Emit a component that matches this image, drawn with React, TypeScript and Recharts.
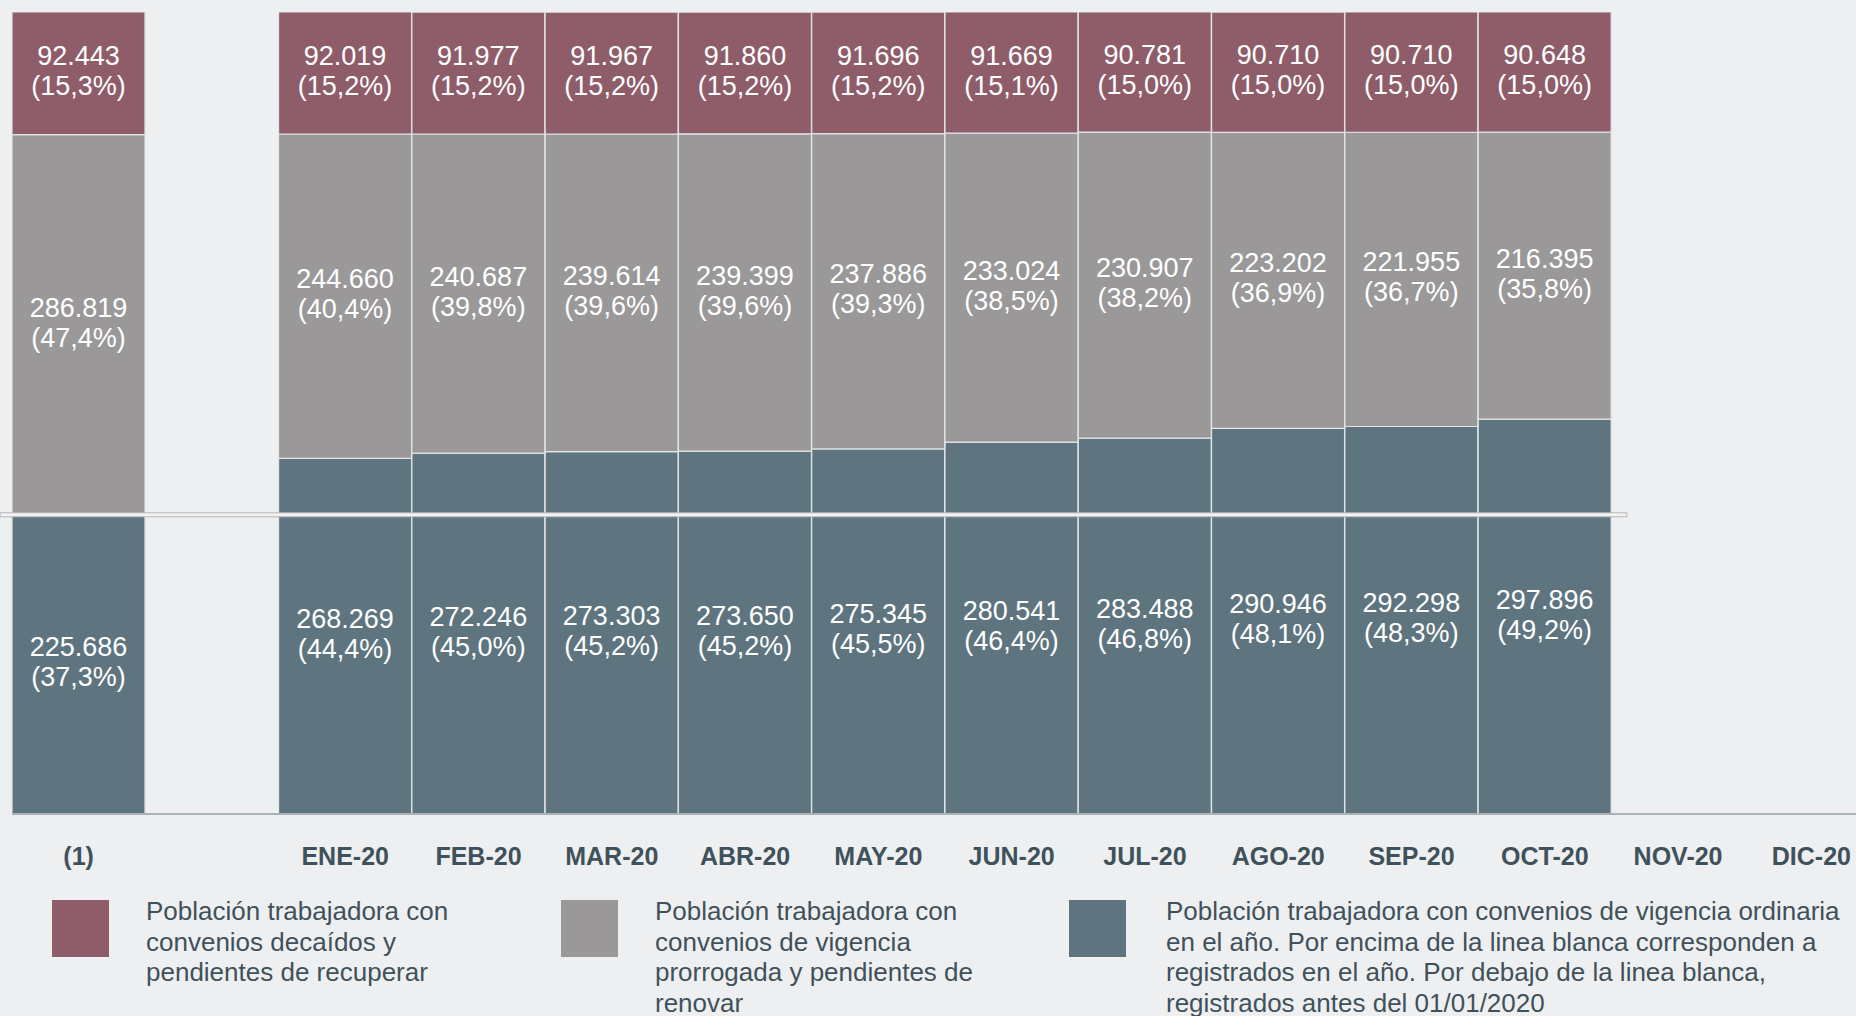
import React from 'react';
import { BarChart, Bar, XAxis, YAxis, LabelList, ReferenceLine } from 'recharts';

const categories = ['(1)', ' ', 'ENE-20', 'FEB-20', 'MAR-20', 'ABR-20', 'MAY-20', 'JUN-20', 'JUL-20', 'AGO-20', 'SEP-20', 'OCT-20', 'NOV-20', 'DIC-20'];
const decaidos = [92443, null, 92019, 91977, 91967, 91860, 91696, 91669, 90781, 90710, 90710, 90648, null, null];
const decaidosPct = ['15,3', null, '15,2', '15,2', '15,2', '15,2', '15,2', '15,1', '15,0', '15,0', '15,0', '15,0', null, null];
const prorrogada = [286819, null, 244660, 240687, 239614, 239399, 237886, 233024, 230907, 223202, 221955, 216395, null, null];
const prorrogadaPct = ['47,4', null, '40,4', '39,8', '39,6', '39,6', '39,3', '38,5', '38,2', '36,9', '36,7', '35,8', null, null];
const ordinaria = [225686, null, 268269, 272246, 273303, 273650, 275345, 280541, 283488, 290946, 292298, 297896, null, null];
const ordinariaPct = ['37,3', null, '44,4', '45,0', '45,2', '45,2', '45,5', '46,4', '46,8', '48,1', '48,3', '49,2', null, null];
const registradosAntes2020 = 225686;
const totalPoblacion = 604948;

const C_DEC = '#8f5d6a';
const C_PRO = '#9a9899';
const C_ORD = '#5e757f';
const BG = '#eeeff1';
const TXT = '#3f525b';
const FONT = '"Liberation Sans", Arial, sans-serif';

const fmt = (v: number) => v.toLocaleString('de-DE');

const data = categories.map((c, i) => ({
  cat: c,
  antes: ordinaria[i] == null ? null : Math.min(ordinaria[i] as number, registradosAntes2020),
  enAno: ordinaria[i] == null || (ordinaria[i] as number) - registradosAntes2020 <= 0 ? null : (ordinaria[i] as number) - registradosAntes2020,
  prorrogada: prorrogada[i],
  decaidos: decaidos[i],
  idx: i,
}));

const twoLine = (cx: number, cy: number, a: string, b: string) => (
  <text x={cx} textAnchor="middle" fill="#ffffff" fontFamily={FONT} fontSize={27}>
    <tspan x={cx} y={cy - 15 + 7}>{a}</tspan>
    <tspan x={cx} y={cy + 15 + 7}>{b}</tspan>
  </text>
);

const segLabel = (vals: (number | null)[], pcts: (string | null)[]) => (props: any) => {
  const { x, y, width, height, value } = props;
  const i = Number(value);
  const v = vals[i];
  if (v == null || Number.isNaN(i)) return null;
  return twoLine(x + width / 2, y + height / 2, fmt(v), `(${pcts[i]}%)`);
};

const ordLabel = (props: any) => {
  const { x, y, width, height, value } = props;
  const i = Number(value);
  const v = ordinaria[i];
  if (v == null || Number.isNaN(i)) return null;
  const fullH = (height * v) / Math.min(v, registradosAntes2020);
  const bottom = y + height;
  return twoLine(x + width / 2, bottom - fullH / 2, fmt(v), `(${ordinariaPct[i]}%)`);
};

const WhiteLine = (props: any) => {
  const { x2, y1 } = props;
  return <rect x={0} y={y1 - 2} width={x2 + 82} height={4} fill="#f3f3f3" stroke="#b4b6b8" strokeWidth={1} />;
};

const legendItems = [
  { color: C_DEC, swatchX: 52, textX: 146, lines: ['Población trabajadora con', 'convenios decaídos y', 'pendientes de recuperar'] },
  { color: C_PRO, swatchX: 561, textX: 655, lines: ['Población trabajadora con', 'convenios de vigencia', 'prorrogada y pendientes de', 'renovar'] },
  { color: C_ORD, swatchX: 1069, textX: 1166, lines: ['Población trabajadora con convenios de vigencia ordinaria', 'en el año. Por encima de la linea blanca corresponden a', 'registrados en el año. Por debajo de la linea blanca,', 'registrados antes del 01/01/2020'] },
];

export default function App() {
  return (
    <div style={{ position: 'absolute', left: 0, top: 0, width: 1856, height: 1016, overflow: 'hidden', background: BG, fontFamily: FONT }}>
      <BarChart
        width={1878}
        height={880}
        data={data}
        margin={{ top: 12, right: 0, left: 12, bottom: 0 }}
        barCategoryGap={0}
        barGap={0}
      >
        <YAxis hide domain={[0, totalPoblacion]} allowDataOverflow />
        <XAxis
          dataKey="cat"
          height={66}
          interval={0}
          tickLine={false}
          tickSize={0}
          tickMargin={33}
          axisLine={{ stroke: '#a8b3b9', strokeWidth: 2 }}
          tick={{ fill: TXT, fontSize: 25, fontFamily: FONT, fontWeight: 700 }}
        />
        <Bar dataKey="antes" stackId="a" fill={C_ORD} stroke="#e2e4e6" strokeWidth={1.2} isAnimationActive={false}>
          <LabelList dataKey="idx" content={ordLabel} />
        </Bar>
        <Bar dataKey="enAno" stackId="a" fill={C_ORD} stroke="#e2e4e6" strokeWidth={1.2} isAnimationActive={false} />
        <Bar dataKey="prorrogada" stackId="a" fill={C_PRO} stroke="#e2e4e6" strokeWidth={1.2} isAnimationActive={false}>
          <LabelList dataKey="idx" content={segLabel(prorrogada, prorrogadaPct)} />
        </Bar>
        <Bar dataKey="decaidos" stackId="a" fill={C_DEC} stroke="#e2e4e6" strokeWidth={1.2} isAnimationActive={false}>
          <LabelList dataKey="idx" content={segLabel(decaidos, decaidosPct)} />
        </Bar>
        <ReferenceLine
          segment={[{ x: '(1)', y: registradosAntes2020 }, { x: 'OCT-20', y: registradosAntes2020 }]}
          ifOverflow="visible"
          shape={WhiteLine}
        />
      </BarChart>
      {legendItems.map((it, i) => (
        <React.Fragment key={i}>
          <div style={{ position: 'absolute', left: it.swatchX, top: 900, width: 57, height: 57, background: it.color }} />
          <div style={{ position: 'absolute', left: it.textX, top: 896, fontSize: 26, lineHeight: '30.5px', color: TXT, whiteSpace: 'nowrap' }}>
            {it.lines.map((l, j) => (
              <div key={j}>{l}</div>
            ))}
          </div>
        </React.Fragment>
      ))}
    </div>
  );
}
